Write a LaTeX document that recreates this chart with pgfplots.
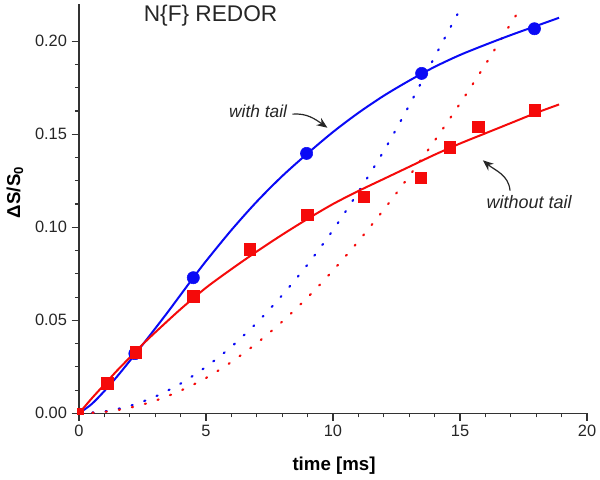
\documentclass[border=0pt]{standalone}
\usepackage{fontspec}
\setmainfont{Liberation Sans}
\usepackage{pgfplots}
\pgfplotsset{compat=1.18}
\usetikzlibrary{arrows.meta}
\definecolor{myblue}{RGB}{10,10,245}
\definecolor{myred}{RGB}{245,10,10}
\begin{document}
\begin{tikzpicture}
\begin{axis}[
  scale only axis, width=381pt, height=307pt,
  xmin=0, xmax=20, ymin=0, ymax=0.22,
  axis x line*=bottom, axis y line*=left,
  axis line style={line width=0.9pt, black!80, -},
  xtick={0,5,10,15,20}, minor x tick num=4,
  ytick={0,0.05,0.10,0.15,0.20}, minor y tick num=3,
  tick align=outside,
  major tick length=5.5pt, minor tick length=3pt,
  every tick/.style={line width=0.8pt, black!80},
  ticklabel style={font=\fontsize{12.3}{14}\selectfont, black!85},
  yticklabel style={/pgf/number format/fixed, /pgf/number format/fixed zerofill, /pgf/number format/precision=2},
  /pgf/number format/assume math mode=true,
  scaled y ticks=false,
  xlabel={time [ms]}, ylabel={ΔS/S\textsubscript{0}},
  label style={font=\bfseries\fontsize{14}{16}\selectfont},
  xlabel style={at={(axis description cs:0.502,-0.129)}, anchor=center},
  ylabel style={at={(axis description cs:-0.126,0.54)}, anchor=center},
]
% dotted initial-slope curves
\addplot[myblue, line width=1.6pt, line cap=round, dash pattern=on 0.9pt off 9.1pt, smooth] coordinates {
(0,0) (1,0.001) (2,0.004) (3,0.009) (4,0.016) (5,0.025) (6,0.0358) (7,0.0487) (8,0.0635) (9,0.080) (10,0.0985) (11,0.119) (12,0.141) (13,0.1655) (14,0.1915) (14.9,0.2145)};
\addplot[myred, line width=1.6pt, line cap=round, dash pattern=on 0.9pt off 9.1pt, smooth] coordinates {
(0,0) (1,0.00077) (2,0.003) (3,0.0068) (4,0.0122) (5,0.019) (6,0.0276) (7,0.0377) (8,0.0493) (9,0.0623) (10,0.0768) (11,0.0925) (12,0.1095) (13,0.1275) (14,0.1465) (15,0.1665) (16,0.1875) (17,0.2095) (17.4,0.218)};
% fitted curves
\addplot[myblue, line width=1.5pt, smooth] coordinates {
(0,0) (0.5,0.005) (1,0.012) (1.5,0.0198) (2,0.0282) (2.5,0.0368) (3,0.0456) (3.5,0.0545) (4,0.0637) (4.5,0.0729) (5,0.0818) (6,0.0985) (7,0.1138) (8,0.1275) (9,0.1397) (10,0.1512) (11,0.1615) (12,0.1707) (13,0.1788) (14,0.1862) (15,0.1926) (16,0.1981) (17,0.2033) (18,0.2082) (18.9,0.2126)};
\addplot[myred, line width=1.5pt, smooth] coordinates {
(0,0) (0.5,0.008) (1,0.0155) (1.5,0.023) (2,0.030) (2.5,0.037) (3,0.0435) (4,0.056) (5,0.0675) (6,0.0775) (7,0.087) (8,0.096) (9,0.1045) (10,0.1125) (11,0.1195) (12,0.126) (13,0.1325) (14,0.139) (15,0.145) (16,0.1505) (17,0.156) (18,0.1615) (18.9,0.166)};
% data
\addplot[only marks, mark=*, mark size=4.6pt, myblue] coordinates {
(2.2,0.0321) (4.5,0.0729) (8.96,0.1397) (13.49,0.1827) (17.93,0.2067)};
\addplot[only marks, mark=square*, mark size=4.3pt, myred] coordinates {
(1.11,0.0161) (2.24,0.0328) (4.5,0.0629) (6.73,0.0882) (8.99,0.1068) (11.22,0.1165) (13.46,0.1265) (14.59,0.1429) (15.71,0.154) (17.95,0.163)};
\addplot[only marks, mark=square*, mark size=2.2pt, myred] coordinates {(0.05,0.001)};
% annotations
\node[font=\fontsize{17}{19}\selectfont, black!85] at (axis cs:5.18,0.2135) {N\{F\} REDOR};
\node[font=\itshape\fontsize{13}{15}\selectfont, black!85, anchor=east, inner sep=0pt] at (axis cs:8.2,0.1625) {with tail};
\draw[black!85, line width=0.9pt, -{Stealth[length=8pt,width=6.5pt]}] (axis cs:8.4,0.1608) to[out=5,in=145] (axis cs:9.78,0.1535);
\node[font=\itshape\fontsize{13.5}{15}\selectfont, black!85] at (axis cs:17.72,0.1133) {without tail};
\draw[black!85, line width=0.9pt, -{Stealth[length=8pt,width=6.5pt]}] (axis cs:16.97,0.1197) to[out=95,in=-40] (axis cs:15.9,0.136);
\end{axis}
\pgfresetboundingbox
\useasboundingbox (-59.25pt,-49.3pt) rectangle (390.75pt,310pt);
\end{tikzpicture}
\end{document}
